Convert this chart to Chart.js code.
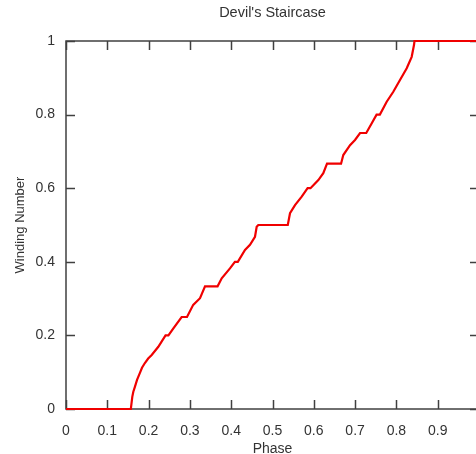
<!DOCTYPE html>
<html>
<head>
<meta charset="utf-8">
<script src="https://cdn.jsdelivr.net/npm/chart.js@4/dist/chart.umd.min.js"></script>
<style>
  html, body { margin: 0; padding: 0; background: #ffffff; overflow: hidden; width: 476px; height: 454px; }
  canvas { display: block; }
</style>
</head>
<body>
<canvas id="c" width="493" height="460" style="width:493px;height:460px"></canvas>
<script>
// Data
const phase = [0, 0.157, 0.1605, 0.163, 0.167, 0.172, 0.179, 0.184, 0.191, 0.199, 0.2075, 0.2235, 0.241, 0.248, 0.26, 0.280, 0.293, 0.308, 0.3245, 0.3366, 0.367, 0.377, 0.397, 0.409, 0.416, 0.4334, 0.4455, 0.4576, 0.4617, 0.4656, 0.537, 0.5424, 0.5545, 0.5707, 0.585, 0.592, 0.611, 0.623, 0.632, 0.666, 0.6714, 0.6877, 0.6998, 0.712, 0.727, 0.740, 0.752, 0.760, 0.7765, 0.7925, 0.8087, 0.825, 0.837, 0.8426, 0.8438, 1];
const winding = [0, 0, 0.033, 0.047, 0.061, 0.079, 0.098, 0.112, 0.125, 0.137, 0.147, 0.169, 0.2, 0.2, 0.219, 0.25, 0.25, 0.283, 0.301, 0.3333, 0.3333, 0.355, 0.382, 0.4, 0.4, 0.432, 0.446, 0.468, 0.495, 0.5, 0.5, 0.532, 0.554, 0.577, 0.6, 0.6, 0.622, 0.641, 0.6667, 0.6667, 0.69, 0.717, 0.731, 0.75, 0.75, 0.776, 0.8, 0.8, 0.835, 0.862, 0.894, 0.926, 0.957, 0.989, 1, 1];
const xTickValues = [0, 0.1, 0.2, 0.3, 0.4, 0.5, 0.6, 0.7, 0.8, 0.9, 1];
const yTickValues = [0, 0.2, 0.4, 0.6, 0.8, 1];
const titleText = "Devil's Staircase";
const xTitle = "Phase";
const yTitle = "Winding Number";

const points = phase.map((p, i) => ({x: p, y: winding[i]}));
const FONT = "'Liberation Sans', Arial, Helvetica, sans-serif";
const TEXT = '#333333';
const AXIS = '#404040';

const framePlugin = {
  id: 'frame',
  beforeDatasetsDraw(chart) {
    const {ctx, chartArea: a, scales: {x, y}} = chart;
    ctx.save();
    ctx.strokeStyle = AXIS;
    ctx.lineWidth = 1.5;
    ctx.strokeRect(a.left, a.top, a.right - a.left, a.bottom - a.top);
    const L = 9;
    ctx.beginPath();
    xTickValues.forEach(v => {
      const px = Math.round(x.getPixelForValue(v)) + 0.5;
      ctx.moveTo(px, a.bottom); ctx.lineTo(px, a.bottom - L);
      ctx.moveTo(px, a.top); ctx.lineTo(px, a.top + L);
    });
    yTickValues.forEach(v => {
      const py = Math.round(y.getPixelForValue(v)) + 0.5;
      ctx.moveTo(a.left, py); ctx.lineTo(a.left + L, py);
      ctx.moveTo(a.right, py); ctx.lineTo(a.right - L, py);
    });
    ctx.stroke();
    ctx.restore();
  }
};

new Chart(document.getElementById('c'), {
  type: 'scatter',
  data: {
    datasets: [{
      data: points,
      showLine: true,
      borderColor: '#f00000',
      borderWidth: 2.2,
      pointRadius: 0,
      fill: false,
      tension: 0,
      clip: false
    }]
  },
  options: {
    responsive: false,
    animation: false,
    devicePixelRatio: 1,
    layout: { padding: { left: 0, right: 5, top: 0, bottom: 0 } },
    plugins: {
      legend: { display: false },
      tooltip: { enabled: false },
      title: {
        display: true,
        fullSize: false,
        text: titleText,
        color: TEXT,
        font: { family: FONT, size: 14.5, weight: 'normal' },
        padding: { top: 4, bottom: 19.6 }
      }
    },
    scales: {
      x: {
        type: 'linear',
        min: 0, max: 1,
        afterBuildTicks(s) { s.ticks = xTickValues.map(v => ({value: v})); },
        afterFit(s) { s.height = 51; },
        grid: { display: false, drawTicks: false },
        border: { display: false },
        ticks: {
          color: TEXT,
          font: { family: FONT, size: 14 },
          padding: 14,
          maxRotation: 0,
          autoSkip: false,
          callback: (v) => v === 1 ? '' : String(Math.round(v * 10) / 10)
        },
        title: {
          display: true, text: xTitle, color: TEXT,
          font: { family: FONT, size: 14 },
          padding: { top: 0, bottom: 2 }
        }
      },
      y: {
        type: 'linear',
        min: 0, max: 1,
        afterBuildTicks(s) { s.ticks = yTickValues.map(v => ({value: v})); },
        afterFit(s) { s.width = 66; },
        grid: { display: false, drawTicks: false },
        border: { display: false },
        ticks: {
          color: TEXT,
          font: { family: FONT, size: 14 },
          padding: 11,
          autoSkip: false,
          callback: (v) => String(Math.round(v * 10) / 10)
        },
        title: {
          display: true, text: yTitle, color: TEXT,
          font: { family: FONT, size: 13 },
          padding: { top: 13, bottom: 0 }
        }
      }
    }
  },
  plugins: [framePlugin]
});
</script>
</body>
</html>
